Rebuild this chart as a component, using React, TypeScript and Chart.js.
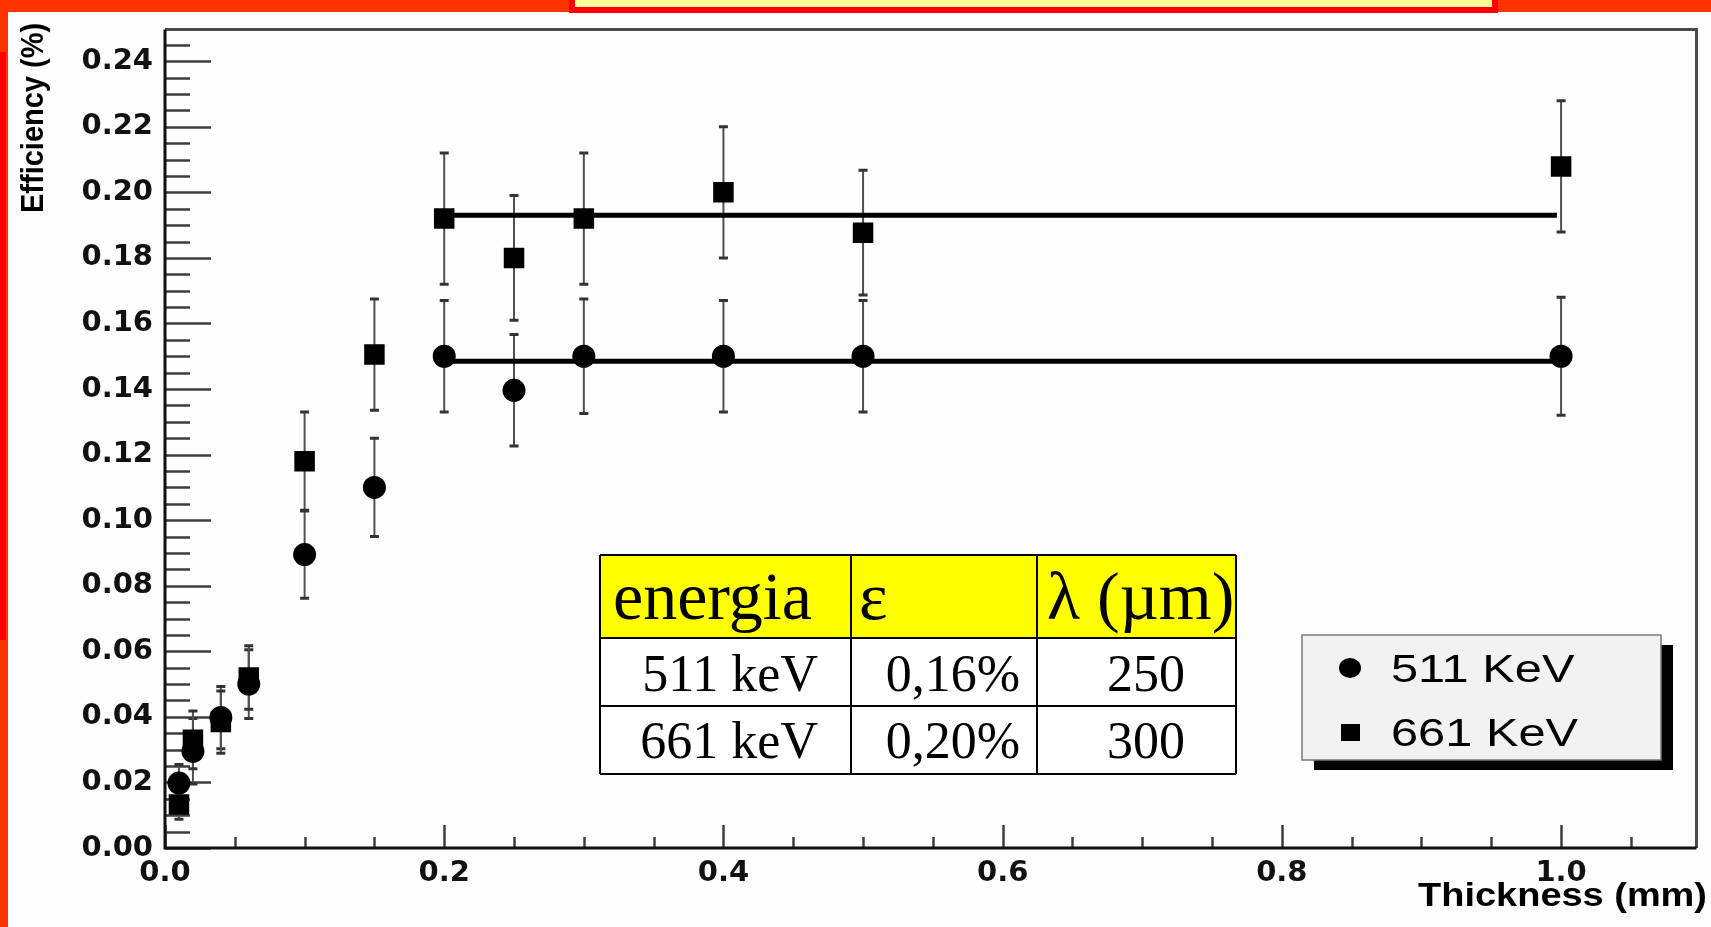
import React, { useEffect, useRef } from 'react';
import { Chart, registerables } from 'chart.js';

Chart.register(...registerables);

// ---------------- data ----------------
const thickness = [0.01, 0.02, 0.04, 0.06, 0.1, 0.15, 0.2, 0.25, 0.3, 0.4, 0.5, 1.0];
const eff511 = [0.0198, 0.0295, 0.0398, 0.0500, 0.0895, 0.1100, 0.1500, 0.1396, 0.1500, 0.1500, 0.1500, 0.1500];
const err511 = [0.0057, 0.0100, 0.0095, 0.0105, 0.0133, 0.0150, 0.0170, 0.0170, 0.0175, 0.0170, 0.0170, 0.0180];
const eff661 = [0.0133, 0.0330, 0.0384, 0.0520, 0.1180, 0.1505, 0.1920, 0.1800, 0.1920, 0.2000, 0.1877, 0.2079];
const err661 = [0.0045, 0.0088, 0.0095, 0.0097, 0.0150, 0.0170, 0.0200, 0.0190, 0.0200, 0.0200, 0.0190, 0.0200];

const fit511 = [0.1485, 0.1485];
const fit661 = [0.193, 0.193];
const fitX = [0.2, 0.997];

const xTicks = [0, 0.2, 0.4, 0.6, 0.8, 1.0];
const yTicks = [0, 0.02, 0.04, 0.06, 0.08, 0.1, 0.12, 0.14, 0.16, 0.18, 0.2, 0.22, 0.24];
const xMinorStep = 0.05;
const yMinorStep = 0.005;

const seriesLabels = ['511 KeV', '661 KeV'];
const xTitle = 'Thickness (mm)';
const yTitle = 'Efficiency (%)';

const tableHeader = ['energia', 'ε', 'λ (µm)'];
const tableRow1 = ['511 keV', '0,16%', '250'];
const tableRow2 = ['661 keV', '0,20%', '300'];

// ---------------- drawing helpers ----------------
const W = 1711;
const H = 927;

function stretchedText(ctx: CanvasRenderingContext2D, text: string, x: number, y: number, font: string, sx: number, align: CanvasTextAlign) {
  ctx.save();
  ctx.font = font;
  ctx.textAlign = align;
  ctx.textBaseline = 'alphabetic';
  ctx.fillStyle = '#000';
  ctx.translate(x, y);
  ctx.scale(sx, 1);
  ctx.fillText(text, 0, 0);
  ctx.restore();
}

const decorPlugin = {
  id: 'decor',
  beforeDraw(chart: any) {
    const ctx = chart.ctx as CanvasRenderingContext2D;
    ctx.save();
    ctx.fillStyle = '#fdfdfd';
    ctx.fillRect(0, 0, W, H);
    ctx.fillStyle = '#FF3300';
    ctx.fillRect(0, 0, W, 12);
    ctx.fillRect(0, 0, 8, H);
    ctx.fillStyle = '#FF0000';
    ctx.fillRect(0, 52, 6, 588);
    ctx.fillStyle = '#FF0000';
    ctx.fillRect(569, 0, 929, 13);
    ctx.fillStyle = '#FFFF99';
    ctx.fillRect(575, 0, 917, 7);
    ctx.restore();
  },
  beforeDatasetsDraw(chart: any) {
    const ctx = chart.ctx as CanvasRenderingContext2D;
    const xs = chart.scales.x;
    const ys = chart.scales.y;
    const { left, right, top, bottom } = chart.chartArea;
    ctx.save();
    // ticks (pointing inward)
    ctx.strokeStyle = '#3c3c3c';
    ctx.lineWidth = 2.5;
    const nY = Math.floor((ys.max - ys.min) / yMinorStep + 1e-6);
    for (let k = 0; k <= nY; k++) {
      const v = ys.min + k * yMinorStep;
      const major = yTicks.some((t) => Math.abs(t - v) < 1e-9);
      const py = Math.round(ys.getPixelForValue(v)) + 0.5;
      ctx.beginPath();
      ctx.moveTo(left, py);
      ctx.lineTo(left + (major ? 46 : 25), py);
      ctx.stroke();
    }
    const nX = Math.floor((xs.max - xs.min) / xMinorStep + 1e-6);
    for (let k = 0; k <= nX; k++) {
      const v = xs.min + k * xMinorStep;
      const major = xTicks.some((t) => Math.abs(t - v) < 1e-9);
      const px = Math.round(xs.getPixelForValue(v)) + 0.5;
      ctx.beginPath();
      ctx.moveTo(px, bottom);
      ctx.lineTo(px, bottom - (major ? 23 : 11));
      ctx.stroke();
    }
    // frame
    ctx.lineWidth = 3;
    ctx.strokeStyle = '#4a4a4a';
    ctx.beginPath();
    ctx.moveTo(left, top);
    ctx.lineTo(right, top);
    ctx.lineTo(right, bottom);
    ctx.stroke();
    ctx.strokeStyle = '#111';
    ctx.beginPath();
    ctx.moveTo(left, top);
    ctx.lineTo(left, bottom);
    ctx.lineTo(right, bottom);
    ctx.stroke();

    // error bars
    const sets = [
      { v: eff511, e: err511 },
      { v: eff661, e: err661 },
    ];
    for (const s of sets) {
      for (let i = 0; i < thickness.length; i++) {
        const px = xs.getPixelForValue(thickness[i]);
        const y1 = ys.getPixelForValue(s.v[i] + s.e[i]);
        const y2 = ys.getPixelForValue(s.v[i] - s.e[i]);
        ctx.strokeStyle = '#505050';
        ctx.lineWidth = 2;
        ctx.beginPath();
        ctx.moveTo(px, y1);
        ctx.lineTo(px, y2);
        ctx.stroke();
        ctx.lineWidth = 3;
        ctx.strokeStyle = '#333';
        ctx.beginPath();
        ctx.moveTo(px - 4.5, y1);
        ctx.lineTo(px + 4.5, y1);
        ctx.moveTo(px - 4.5, y2);
        ctx.lineTo(px + 4.5, y2);
        ctx.stroke();
      }
    }
    ctx.restore();
  },
  afterDraw(chart: any) {
    const ctx = chart.ctx as CanvasRenderingContext2D;
    // axis titles
    stretchedText(ctx, xTitle, 1707, 906, 'bold 33px "Liberation Sans"', 1.15, 'right');
    ctx.save();
    ctx.translate(43, 213);
    ctx.rotate(-Math.PI / 2);
    ctx.scale(1, 1.1);
    ctx.font = 'bold 29px "Liberation Sans"';
    ctx.textAlign = 'left';
    ctx.textBaseline = 'alphabetic';
    ctx.fillStyle = '#000';
    ctx.fillText(yTitle, 0, 0);
    ctx.restore();

    // table
    const cols = [600, 851, 1037, 1236];
    const rows = [555, 638, 706, 774];
    ctx.save();
    ctx.fillStyle = '#ffffff';
    ctx.fillRect(cols[0], rows[0], cols[3] - cols[0], rows[3] - rows[0]);
    ctx.fillStyle = '#FFFF00';
    ctx.fillRect(cols[0], rows[0], cols[3] - cols[0], rows[1] - rows[0]);
    ctx.strokeStyle = '#000';
    ctx.lineWidth = 2;
    ctx.beginPath();
    for (const r of rows) {
      ctx.moveTo(cols[0], r);
      ctx.lineTo(cols[3], r);
    }
    for (const c of cols) {
      ctx.moveTo(c, rows[0]);
      ctx.lineTo(c, rows[3]);
    }
    ctx.stroke();
    ctx.fillStyle = '#000';
    ctx.textBaseline = 'alphabetic';
    ctx.font = '68px "Liberation Serif"';
    ctx.textAlign = 'left';
    ctx.fillText(tableHeader[0], 613, 619);
    ctx.fillText(tableHeader[1], 859, 619);
    ctx.fillText(tableHeader[2], 1047, 619);
    ctx.font = '52px "Liberation Serif"';
    const bodyRows = [tableRow1, tableRow2];
    const baselines = [691, 758];
    bodyRows.forEach((row, i) => {
      ctx.textAlign = 'right';
      ctx.fillText(row[0], 818, baselines[i]);
      ctx.fillText(row[1], 1020, baselines[i]);
      ctx.textAlign = 'center';
      ctx.fillText(row[2], 1146, baselines[i]);
    });
    ctx.restore();

    // legend
    const lx = 1302, ly = 635, lw = 359, lh = 125;
    ctx.save();
    ctx.fillStyle = '#000';
    ctx.fillRect(lx + 12, ly + 10, lw, lh);
    ctx.fillStyle = '#f2f2f2';
    ctx.fillRect(lx, ly, lw, lh);
    ctx.strokeStyle = '#7a7a7a';
    ctx.lineWidth = 1.5;
    ctx.strokeRect(lx, ly, lw, lh);
    ctx.fillStyle = '#000';
    ctx.beginPath();
    ctx.ellipse(1350, 668, 11, 10, 0, 0, Math.PI * 2);
    ctx.fill();
    ctx.fillRect(1341, 724, 19, 17);
    ctx.restore();
    stretchedText(ctx, seriesLabels[0], 1391, 682, '39px "Liberation Sans"', 1.25, 'left');
    stretchedText(ctx, seriesLabels[1], 1391, 746, '39px "Liberation Sans"', 1.25, 'left');
  },
};

export default function App() {
  const canvasRef = useRef<HTMLCanvasElement | null>(null);

  useEffect(() => {
    const canvas = canvasRef.current;
    if (!canvas) return;
    const tickFont = { family: '"DejaVu Sans"', size: 29, weight: 'bold' as const };
    const chart = new Chart(canvas, {
      type: 'scatter',
      data: {
        datasets: [
          {
            label: seriesLabels[0],
            data: thickness.map((x, i) => ({ x, y: eff511[i] })),
            pointStyle: 'circle',
            pointRadius: 11.5,
            backgroundColor: '#000',
            borderColor: '#000',
            borderWidth: 0,
          },
          {
            label: seriesLabels[1],
            data: thickness.map((x, i) => ({ x, y: eff661[i] })),
            pointStyle: 'rect',
            pointRadius: 14.5,
            backgroundColor: '#000',
            borderColor: '#000',
            borderWidth: 0,
          },
          {
            label: 'fit 511',
            data: fitX.map((x, i) => ({ x, y: fit511[i] })),
            showLine: true,
            pointRadius: 0,
            borderColor: '#000',
            borderWidth: 5,
          },
          {
            label: 'fit 661',
            data: fitX.map((x, i) => ({ x, y: fit661[i] })),
            showLine: true,
            pointRadius: 0,
            borderColor: '#000',
            borderWidth: 5,
          },
        ],
      },
      options: {
        animation: false,
        responsive: true,
        maintainAspectRatio: false,
        devicePixelRatio: 1,
        layout: { padding: { top: 20, right: 7, left: 0, bottom: 0 } },
        plugins: {
          legend: { display: false },
          tooltip: { enabled: false },
          title: { display: false },
        },
        scales: {
          x: {
            type: 'linear',
            min: 0,
            max: 1.097,
            grid: { display: false, drawTicks: false },
            border: { display: false },
            afterBuildTicks: (s: any) => {
              s.ticks = xTicks.map((v) => ({ value: v }));
            },
            afterFit: (s: any) => {
              s.height = 79;
            },
            ticks: {
              autoSkip: false,
              maxRotation: 0,
              padding: 8,
              color: '#111',
              font: tickFont,
              callback: (v: any) => Number(v).toFixed(1),
            },
          },
          y: {
            type: 'linear',
            min: 0,
            max: 0.2497,
            grid: { display: false, drawTicks: false },
            border: { display: false },
            afterBuildTicks: (s: any) => {
              s.ticks = yTicks.map((v) => ({ value: v }));
            },
            afterFit: (s: any) => {
              s.width = 165;
            },
            ticks: {
              autoSkip: false,
              padding: 12,
              color: '#111',
              font: tickFont,
              callback: (v: any) => Number(v).toFixed(2),
            },
          },
        },
      },
      plugins: [decorPlugin],
    });
    return () => chart.destroy();
  }, []);

  return (
    <div style={{ position: 'fixed', left: 0, top: 0, width: W, height: H, background: '#fdfdfd' }}>
      <canvas ref={canvasRef} />
    </div>
  );
}
